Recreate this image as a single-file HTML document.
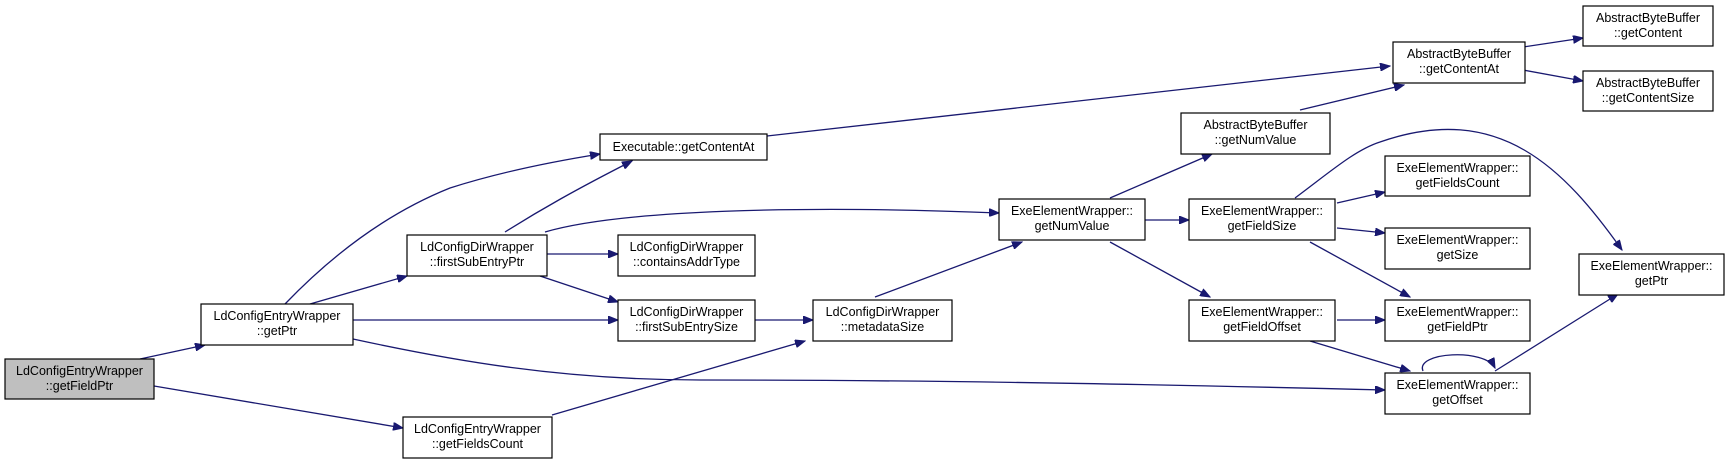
<!DOCTYPE html>
<html><head><meta charset="utf-8"><style>
html,body{margin:0;padding:0;background:#fff;}
svg{display:block;}
text{font-family:"Liberation Sans",sans-serif;font-size:12.5px;fill:#000;}
rect{fill:#fff;stroke:#000;stroke-width:1.2;}
path{fill:none;stroke:#191970;stroke-width:1.3;}
</style></head><body>
<svg width="1727" height="464" viewBox="0 0 1727 464" xmlns="http://www.w3.org/2000/svg">
<defs>
<marker id="a" markerWidth="11" markerHeight="8" refX="10" refY="4" orient="auto" markerUnits="userSpaceOnUse">
<path d="M0,0 L10,4 L0,8 Z" style="fill:#191970;stroke:#191970;stroke-width:1"/>
</marker>
</defs>
<g marker-end="url(#a)">
<path d="M140,359 L205,345"/>
<path d="M154,386 L403,428"/>
<path d="M285,304 C335,252 390,212 450,188 C500,172 550,162 600,154"/>
<path d="M310,304 L407,276"/>
<path d="M353,320 L618,320"/>
<path d="M353,339 C450,360 560,380 700,380 C900,380 1100,383 1385,390"/>
<path d="M505,232 C540,210 575,190 632,161"/>
<path d="M545,232 C620,210 800,205 999,213"/>
<path d="M547,254 L618,254"/>
<path d="M540,276 L618,302"/>
<path d="M755,320 L813,320"/>
<path d="M552,415 L805,341"/>
<path d="M875,297 L1022,242"/>
<path d="M767,136 L1390,66"/>
<path d="M1110,198 L1212,154"/>
<path d="M1145,220 L1189,220"/>
<path d="M1110,242 L1210,297"/>
<path d="M1300,110 L1404,85"/>
<path d="M1523,47 L1583,38"/>
<path d="M1523,70 L1583,81"/>
<path d="M1337,203 L1385,192"/>
<path d="M1337,228 L1385,233"/>
<path d="M1310,242 L1410,297"/>
<path d="M1295,198 C1330,172 1355,150 1380,142 C1500,100 1565,170 1622,250"/>
<path d="M1337,320 L1385,320"/>
<path d="M1310,341 L1410,371"/>
<path d="M1495,371 L1618,294"/>
<path d="M1423,371 C1415,352 1485,348 1495,368"/>
</g>
<rect x="5" y="359" width="149" height="40" style="fill:#bfbfbf"/>
<text x="79.5" y="375" text-anchor="middle">LdConfigEntryWrapper</text>
<text x="79.5" y="390" text-anchor="middle">::getFieldPtr</text>

<rect x="201" y="304" width="152" height="41"/>
<text x="277" y="320" text-anchor="middle">LdConfigEntryWrapper</text>
<text x="277" y="335" text-anchor="middle">::getPtr</text>

<rect x="407" y="235" width="140" height="41"/>
<text x="477" y="251" text-anchor="middle">LdConfigDirWrapper</text>
<text x="477" y="266" text-anchor="middle">::firstSubEntryPtr</text>

<rect x="403" y="417" width="149" height="41"/>
<text x="477.5" y="433" text-anchor="middle">LdConfigEntryWrapper</text>
<text x="477.5" y="448" text-anchor="middle">::getFieldsCount</text>

<rect x="600" y="134" width="167" height="26"/>
<text x="683.5" y="151" text-anchor="middle">Executable::getContentAt</text>

<rect x="618" y="235" width="137" height="41"/>
<text x="686.5" y="251" text-anchor="middle">LdConfigDirWrapper</text>
<text x="686.5" y="266" text-anchor="middle">::containsAddrType</text>

<rect x="618" y="300" width="137" height="41"/>
<text x="686.5" y="316" text-anchor="middle">LdConfigDirWrapper</text>
<text x="686.5" y="331" text-anchor="middle">::firstSubEntrySize</text>

<rect x="813" y="300" width="139" height="41"/>
<text x="882.5" y="316" text-anchor="middle">LdConfigDirWrapper</text>
<text x="882.5" y="331" text-anchor="middle">::metadataSize</text>

<rect x="999" y="199" width="146" height="41"/>
<text x="1072" y="215" text-anchor="middle">ExeElementWrapper::</text>
<text x="1072" y="230" text-anchor="middle">getNumValue</text>

<rect x="1181" y="113" width="149" height="41"/>
<text x="1255.5" y="129" text-anchor="middle">AbstractByteBuffer</text>
<text x="1255.5" y="144" text-anchor="middle">::getNumValue</text>

<rect x="1393" y="42" width="132" height="41"/>
<text x="1459" y="58" text-anchor="middle">AbstractByteBuffer</text>
<text x="1459" y="73" text-anchor="middle">::getContentAt</text>

<rect x="1583" y="6" width="130" height="40"/>
<text x="1648" y="22" text-anchor="middle">AbstractByteBuffer</text>
<text x="1648" y="37" text-anchor="middle">::getContent</text>

<rect x="1583" y="71" width="130" height="40"/>
<text x="1648" y="87" text-anchor="middle">AbstractByteBuffer</text>
<text x="1648" y="102" text-anchor="middle">::getContentSize</text>

<rect x="1189" y="199" width="146" height="41"/>
<text x="1262" y="215" text-anchor="middle">ExeElementWrapper::</text>
<text x="1262" y="230" text-anchor="middle">getFieldSize</text>

<rect x="1189" y="300" width="146" height="41"/>
<text x="1262" y="316" text-anchor="middle">ExeElementWrapper::</text>
<text x="1262" y="331" text-anchor="middle">getFieldOffset</text>

<rect x="1385" y="156" width="145" height="40"/>
<text x="1457.5" y="172" text-anchor="middle">ExeElementWrapper::</text>
<text x="1457.5" y="187" text-anchor="middle">getFieldsCount</text>

<rect x="1385" y="228" width="145" height="41"/>
<text x="1457.5" y="244" text-anchor="middle">ExeElementWrapper::</text>
<text x="1457.5" y="259" text-anchor="middle">getSize</text>

<rect x="1385" y="300" width="145" height="41"/>
<text x="1457.5" y="316" text-anchor="middle">ExeElementWrapper::</text>
<text x="1457.5" y="331" text-anchor="middle">getFieldPtr</text>

<rect x="1385" y="373" width="145" height="41"/>
<text x="1457.5" y="389" text-anchor="middle">ExeElementWrapper::</text>
<text x="1457.5" y="404" text-anchor="middle">getOffset</text>

<rect x="1579" y="254" width="145" height="41"/>
<text x="1651.5" y="270" text-anchor="middle">ExeElementWrapper::</text>
<text x="1651.5" y="285" text-anchor="middle">getPtr</text>
</svg>
</body></html>
